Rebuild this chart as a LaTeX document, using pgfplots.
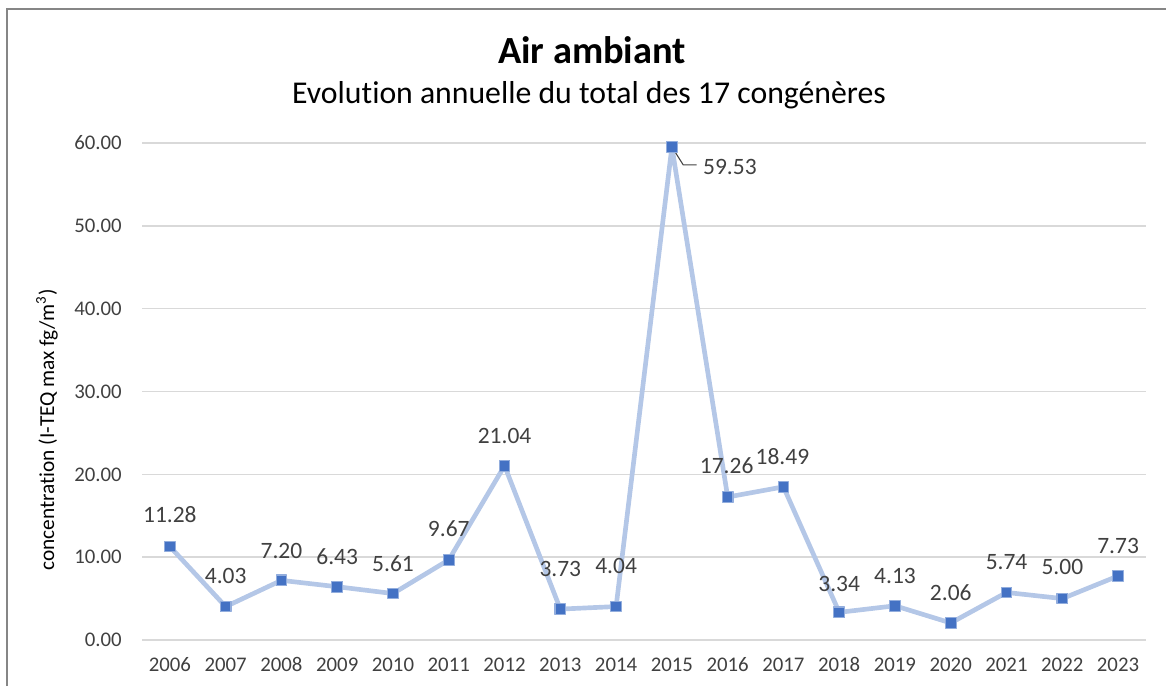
\documentclass[border=0pt]{standalone}
\usepackage{pgfplots}
\pgfplotsset{compat=1.18}
\usepackage{fontspec}
\setmainfont{Carlito}[Ligatures=NoCommon]
\definecolor{linec}{HTML}{B4C7E7}
\definecolor{markc}{HTML}{4472C4}
\definecolor{gridc}{HTML}{D9D9D9}
\definecolor{txt}{HTML}{404040}
\definecolor{framec}{HTML}{868686}
\begin{document}
\begin{tikzpicture}
\path[use as bounding box] (0,0) rectangle (874.5pt,514.5pt);
\draw[line width=1.5pt, framec] (5.6pt,0) -- (5.6pt,508.1pt) -- (874.5pt,508.1pt);
\node[font=\fontsize{28.8}{34}\selectfont\bfseries] at (444pt,477pt) {Air ambiant};
\node[font=\fontsize{23.8}{28}\selectfont] at (441.75pt,443.25pt) {Evolution annuelle du total des 17 congénères};
\node[font=\fontsize{16}{18}\selectfont, rotate=90, text=black] at (35.25pt,192pt) {concentration (I-TEQ max fg/m\textsuperscript{3})};
\begin{axis}[
  at={(106.5pt,34.5pt)}, anchor=south west,
  scale only axis, width=753pt, height=372.75pt,
  xmin=2005.5, xmax=2023.5, ymin=0, ymax=60,
  xtick={2006,2007,...,2023}, ytick={0,10,...,60},
  axis line style={draw=none},
  major tick length=0pt,
  ymajorgrids, grid style={gridc, line width=1.2pt},
  clip=false,
  /pgf/number format/assume math mode=true,
  xticklabel style={font=\fontsize{15.6}{18}\selectfont, text=txt, anchor=base, yshift=-23.7pt, /pgf/number format/1000 sep={}},
  yticklabel style={font=\fontsize{15.6}{18}\selectfont, text=txt, anchor=east, inner sep=0pt, xshift=-15pt, /pgf/number format/.cd, fixed, fixed zerofill, precision=2},
]
\addplot[linec, line width=3.5pt, line join=round, mark=square*, mark size=4pt,
  mark options={fill=markc, draw=linec!70!markc, line width=0.8pt},
  visualization depends on={\thisrow{dx} \as \dx},
  visualization depends on={\thisrow{dy} \as \dy},
  nodes near coords={\pgfmathprintnumber[fixed,fixed zerofill,precision=2,assume math mode=true]{\pgfplotspointmeta}},
  nodes near coords style={font=\fontsize{17.6}{20}\selectfont, text=txt, anchor=base, xshift={\dx*0.75pt}, yshift={\dy*0.75pt-5.5pt}},
] table[x=year, y=val, meta=val] {
year val dx dy
2006 11.28 0 31
2007 4.03 0 30
2008 7.20 0 29
2009 6.43 0 30
2010 5.61 0 29
2011 9.67 0 31
2012 21.04 0 30
2013 3.73 0 40
2014 4.04 0 40
2015 59.53 58 -20
2016 17.26 -1 31
2017 18.49 -1 30
2018 3.34 0 28
2019 4.13 0 30
2020 2.06 0 30
2021 5.74 0 30
2022 5.00 0 31
2023 7.73 0 30
};
\draw[black!75, line width=0.8pt] (axis cs:2015,59.53) -- ++(8.5pt,-13.5pt) -- ++(10pt,0pt);
\end{axis}
\end{tikzpicture}
\end{document}
